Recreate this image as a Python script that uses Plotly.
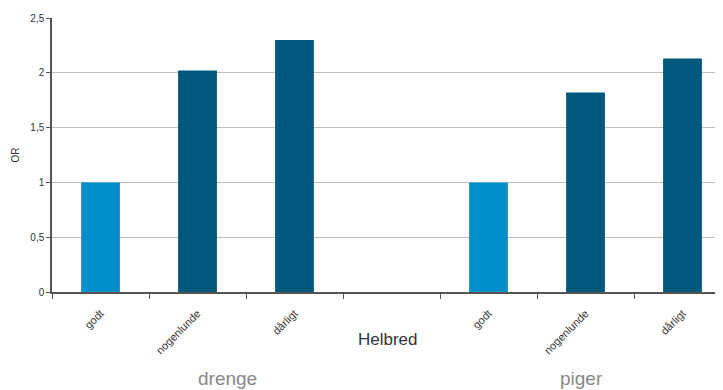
import plotly.graph_objects as go

categories = ["godt", "nogenlunde", "dårligt", "", "godt", "nogenlunde", "dårligt"]
values = [1.0, 2.02, 2.30, None, 1.0, 1.82, 2.13]
bar_colors = ["#008FCC", "#00587C", "#00587C", "#00587C", "#008FCC", "#00587C", "#00587C"]
y_ticks = [0, 0.5, 1, 1.5, 2, 2.5]
y_ticklabels = ["0", "0,5", "1", "1,5", "2", "2,5"]

xs = list(range(len(categories)))
fig = go.Figure(go.Bar(x=xs, y=values, marker=dict(color=bar_colors, line=dict(width=0)), width=0.4))

FONT = "Liberation Sans, Arial, sans-serif"
fig.update_layout(
    width=723, height=390,
    margin=dict(l=44, r=0, t=10, b=106, autoexpand=False),
    plot_bgcolor="white", paper_bgcolor="white",
    showlegend=False,
    font=dict(family=FONT, color="#333333"),
)
fig.update_xaxes(
    range=[-0.5, 6.5],
    automargin=False,
    tickmode="array", tickvals=xs, ticktext=categories,
    tickangle=-45, tickfont=dict(size=11, color="#333333"),
    ticklabelstandoff=9,
    ticks="", showgrid=False,
    showline=True, linecolor="#555555", linewidth=1.5,
    minor=dict(tick0=-0.5, dtick=1, ticks="outside", ticklen=5, tickcolor="#555555", showgrid=False),
    zeroline=False,
)
fig.update_yaxes(
    range=[0, 2.5],
    automargin=False,
    tickmode="array", tickvals=y_ticks, ticktext=y_ticklabels,
    tickfont=dict(size=10, color="#333333"),
    ticks="outside", ticklen=4, tickcolor="#555555",
    showgrid=True, gridcolor="#BFBFBF", gridwidth=1,
    showline=True, linecolor="#555555", linewidth=1.5,
    zeroline=False,
    title=dict(text="OR", font=dict(size=10, color="#333333"), standoff=9),
)
fig.add_annotation(x=2.96, y=-0.175, xref="x", yref="paper", text="Helbred", showarrow=False,
                   xanchor="center", yanchor="middle",
                   font=dict(size=17, color="#333333", family=FONT))
fig.add_annotation(x=1.31, y=-0.314, xref="x", yref="paper", text="drenge", showarrow=False,
                   xanchor="center", yanchor="middle",
                   font=dict(size=19, color="#888888", family=FONT))
fig.add_annotation(x=4.96, y=-0.314, xref="x", yref="paper", text="piger", showarrow=False,
                   xanchor="center", yanchor="middle",
                   font=dict(size=19, color="#888888", family=FONT))

fig.write_html("out.html")
